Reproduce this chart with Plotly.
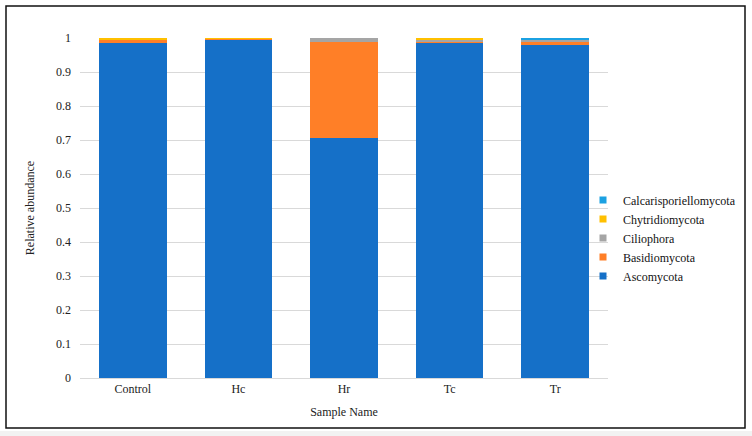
import plotly.graph_objects as go

samples = ["Control", "Hc", "Hr", "Tc", "Tr"]
ascomycota = [0.986, 0.997, 0.706, 0.985, 0.979]
basidiomycota = [0.010, 0.002, 0.282, 0.006, 0.009]
ciliophora = [0.000, 0.000, 0.012, 0.005, 0.008]
chytridiomycota = [0.004, 0.001, 0.000, 0.004, 0.000]
calcarisporiellomycota = [0.000, 0.000, 0.000, 0.000, 0.004]

series = [
    ("Ascomycota", ascomycota, "#1570C8"),
    ("Basidiomycota", basidiomycota, "#FF7F27"),
    ("Ciliophora", ciliophora, "#A5A5A5"),
    ("Chytridiomycota", chytridiomycota, "#FFC000"),
    ("Calcarisporiellomycota", calcarisporiellomycota, "#1BA1E2"),
]

fig = go.Figure()
for name, vals, col in series:
    fig.add_trace(go.Bar(x=samples, y=vals, name=name, marker_color=col,
                         marker_line_width=0, showlegend=False, legendgroup=name))
# small square legend keys
for name, vals, col in series:
    fig.add_trace(go.Scatter(x=[None], y=[None], mode="markers", name=name,
                             legendgroup=name,
                             marker=dict(symbol="square", size=7, color=col)))

W, H = 752, 436
L, R, T, B = 80, 144, 38, 58
pw, ph = W - L - R, H - T - B

def px(x):
    return (x - L) / pw

def py(y):
    return (H - B - y) / ph

font = "Liberation Serif"
fig.update_layout(
    width=W, height=H,
    margin=dict(l=L, r=R, t=T, b=B, pad=0, autoexpand=False),
    barmode="stack", bargap=0.36,
    paper_bgcolor="white", plot_bgcolor="white",
    font=dict(family=font, size=12, color="#222"),
    showlegend=True,
    legend=dict(traceorder="reversed", x=px(583), xanchor="left",
                y=py(238), yanchor="middle", font=dict(size=12, color="#111"),
                bgcolor="rgba(0,0,0,0)", itemwidth=30, tracegroupgap=0),
    xaxis=dict(title=dict(text="Sample Name", standoff=12, font=dict(size=12)),
               showline=True, linecolor="#D9D9D9", linewidth=1, ticks="",
               tickfont=dict(size=12)),
    yaxis=dict(title=dict(text="Relative abundance", standoff=18, font=dict(size=12)),
               range=[0, 1.0], tickvals=[i / 10 for i in range(11)],
               ticktext=["0", "0.1", "0.2", "0.3", "0.4", "0.5", "0.6", "0.7", "0.8", "0.9", "1"],
               showgrid=True, gridcolor="#D9D9D9", gridwidth=1, zeroline=False,
               ticks="", ticklabelstandoff=8, tickfont=dict(size=12)),
    shapes=[
        dict(type="rect", xref="paper", yref="paper",
             x0=px(6), x1=px(745), y0=py(428), y1=py(6),
             line=dict(color="#111", width=1.5), fillcolor="rgba(0,0,0,0)", layer="above"),
        dict(type="rect", xref="paper", yref="paper",
             x0=px(0), x1=px(752), y0=py(436), y1=py(431),
             line=dict(width=0), fillcolor="#F2F2F2", layer="below"),
    ],
)

fig.write_html("out.html", config={"displayModeBar": False},
               post_script="document.body.style.margin='0';document.body.style.overflow='hidden';")
